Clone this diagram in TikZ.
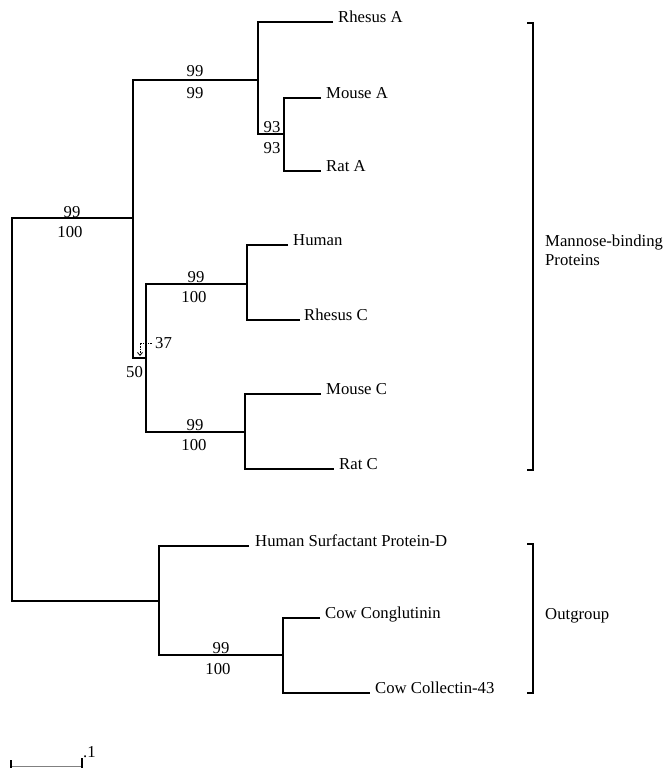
\documentclass[tikz,border=0pt]{standalone}
\usepackage{fontspec}
\setmainfont{Liberation Serif}
\usetikzlibrary{arrows.meta}
\begin{document}
\begin{tikzpicture}[x=1pt,y=-1pt,
  br/.style={line width=1.3pt, black},
  leaf/.style={anchor=base west, inner sep=0pt, font=\fontsize{16.7}{20}\selectfont},
  bs/.style={anchor=center, inner sep=0pt, font=\fontsize{16.7}{20}\selectfont},
  grp/.style={anchor=base west, inner sep=0pt, font=\fontsize{16.7}{20}\selectfont}]
\useasboundingbox (0,0) rectangle (666,768);
% internal nodes
\coordinate (root) at (12,410);
\coordinate (nMBP) at (133,218);
\coordinate (nA) at (258,80);
\coordinate (nMRA) at (284,134);
\coordinate (nC) at (146,358);
\coordinate (nHR) at (247,284);
\coordinate (nMRC) at (245,432);
\coordinate (nOut) at (159,601);
\coordinate (nCow) at (283,655);
% leaf tips
\coordinate (tRhA) at (333,22);
\coordinate (tMoA) at (321,98);
\coordinate (tRaA) at (321,171);
\coordinate (tHu) at (288,245);
\coordinate (tRhC) at (300,320);
\coordinate (tMoC) at (321,394);
\coordinate (tRaC) at (334,469);
\coordinate (tSPD) at (249,546);
\coordinate (tCon) at (320,618);
\coordinate (tCol) at (370,693);
% leaf labels
\node[leaf] (RhA) at ([xshift=5pt,yshift=-0.5pt]tRhA) {Rhesus A};
\node[leaf] (MoA) at ([xshift=5pt,yshift=-0.5pt]tMoA) {Mouse A};
\node[leaf] (RaA) at ([xshift=5pt,yshift=-0.5pt]tRaA) {Rat A};
\node[leaf] (Hu) at ([xshift=5pt,yshift=-0.5pt]tHu) {Human};
\node[leaf] (RhC) at ([xshift=4pt,yshift=-0.5pt]tRhC) {Rhesus C};
\node[leaf] (MoC) at ([xshift=5pt,yshift=-0.5pt]tMoC) {Mouse C};
\node[leaf] (RaC) at ([xshift=5pt,yshift=-0.5pt]tRaC) {Rat C};
\node[leaf] (SPD) at ([xshift=6pt,yshift=-0.5pt]tSPD) {Human Surfactant Protein-D};
\node[leaf] (Con) at ([xshift=5pt,yshift=-0.5pt]tCon) {Cow Conglutinin};
\node[leaf] (Col) at ([xshift=5pt,yshift=-0.5pt]tCol) {Cow Collectin-43};
% tree
\draw[br] (nMBP) -| (root) |- (nOut);
\draw[br] (nA) -| (nMBP) |- (nC);
\draw[br] (tRhA) -| (nA) |- (nMRA);
\draw[br] (tMoA) -| (nMRA) |- (tRaA);
\draw[br] (nHR) -| (nC) |- (nMRC);
\draw[br] (tHu) -| (nHR) |- (tRhC);
\draw[br] (tMoC) -| (nMRC) |- (tRaC);
\draw[br] (tSPD) -| (nOut) |- (nCow);
\draw[br] (tCon) -| (nCow) |- (tCol);
% support values
\node[bs] (s1a) at (72,212) {99};
\node[bs] (s1b) at (70,232) {100};
\node[bs] (s2a) at (195,71) {99};
\node[bs] (s2b) at (195,93) {99};
\node[bs] (s3a) at (272,127) {93};
\node[bs] (s3b) at (272,148) {93};
\node[bs] (s4a) at (196,277) {99};
\node[bs] (s4b) at (194,297) {100};
\node[bs] (s5a) at (195,425) {99};
\node[bs] (s5b) at (194,445) {100};
\node[bs] (s6a) at (221,648) {99};
\node[bs] (s6b) at (218,669) {100};
\node[bs] (s37) at (163.5,343) {37};
\node[bs] (s50) at (134.5,372) {50};
\coordinate (a37) at (140,356);
\draw[line width=0.8pt, dash pattern=on 1.5pt off 1pt, -{Straight Barb[length=3pt,width=5pt,line width=0.8pt]}] ([xshift=-3pt]s37.west) -| (a37);
% brackets
\coordinate (bMt) at (533,23);
\coordinate (bMb) at (533,470);
\coordinate (bOt) at (533,544);
\coordinate (bOb) at (533,693);
\draw[br] ([xshift=-6pt]bMt) -- (bMt) -- (bMb) -- ([xshift=-6pt]bMb);
\draw[br] ([xshift=-6pt]bOt) -- (bOt) -- (bOb) -- ([xshift=-6pt]bOb);
\node[grp] (mbp1) at (545,246) {Mannose-binding};
\node[grp] (mbp2) at (545,265) {Proteins};
\node[grp] (og) at (545,619) {Outgroup};
% scale bar
\coordinate (sL) at (11,766);
\coordinate (sR) at (82,766);
\draw[line width=0.7pt, black!50] (sL) -- (sR);
\draw[br] ([yshift=6pt]sL) -- ([yshift=-3pt]sL);
\draw[br] ([yshift=8pt]sR) -- ([yshift=-3pt]sR);
\node[leaf] (sc) at (83,757) {.1};
\end{tikzpicture}
\end{document}
